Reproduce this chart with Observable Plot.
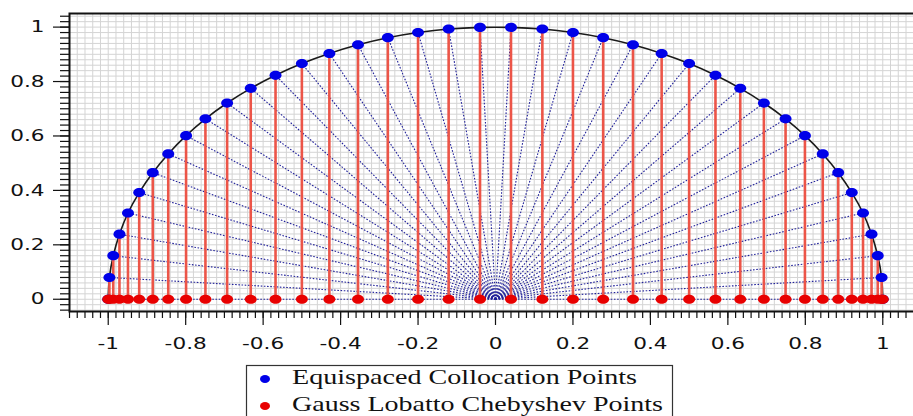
<!DOCTYPE html>
<html><head><meta charset="utf-8">
<script src="https://cdn.jsdelivr.net/npm/d3@7"></script>
<script src="https://cdn.jsdelivr.net/npm/@observablehq/plot@0.6"></script>
<style>
body{margin:0;background:#fff;overflow:hidden}
svg{overflow:hidden;display:block}
</style>
</head><body><div id="chart"></div><div id="legend"></div>
<script>
// Gauss Lobatto Chebyshev abscissae (red points) == x of equispaced arc points
const gllX = [1, 0.997, 0.987, 0.971, 0.949, 0.920, 0.885, 0.845, 0.799, 0.749, 0.693, 0.632, 0.568, 0.500, 0.429, 0.355, 0.278, 0.200, 0.121, 0.040,
  -0.040, -0.121, -0.200, -0.278, -0.355, -0.429, -0.500, -0.568, -0.632, -0.693, -0.749, -0.799, -0.845, -0.885, -0.920, -0.949, -0.971, -0.987, -0.997, -1];
// heights of the equispaced collocation points on the unit semicircle (blue)
const eqY = [0, 0.080, 0.160, 0.239, 0.317, 0.392, 0.465, 0.534, 0.601, 0.663, 0.721, 0.775, 0.823, 0.866, 0.903, 0.935, 0.961, 0.980, 0.993, 0.999,
  0.999, 0.993, 0.980, 0.961, 0.935, 0.903, 0.866, 0.823, 0.775, 0.721, 0.663, 0.601, 0.534, 0.465, 0.392, 0.317, 0.239, 0.160, 0.080, 0];
const xTicks = [-1, -0.8, -0.6, -0.4, -0.2, 0, 0.2, 0.4, 0.6, 0.8, 1];
const yTicks = [0, 0.2, 0.4, 0.6, 0.8, 1];
const legendLabels = ["Equispaced Collocation Points", "Gauss Lobatto Chebyshev Points"];
const seriesColors = ["#0000e8", "#e80000"];

const pts = gllX.map((x, i) => ({x, y: eqY[i]}));
const minorX = d3.range(-110, 111, 2).map(d => d / 100);
const minorY = d3.range(-4, 105, 2).map(d => d / 100);

const ellipse = {
  draw(ctx, size) {
    const r = Math.sqrt(size / Math.PI), a = r * 1.3, b = r, k = 0.5523;
    ctx.moveTo(a, 0);
    ctx.bezierCurveTo(a, k * b, k * a, b, 0, b);
    ctx.bezierCurveTo(-k * a, b, -a, k * b, -a, 0);
    ctx.bezierCurveTo(-a, -k * b, -k * a, -b, 0, -b);
    ctx.bezierCurveTo(k * a, -b, a, -k * b, a, 0);
    ctx.closePath();
  }
};

const chart = Plot.plot({
  width: 913, height: 355,
  marginTop: 13, marginLeft: 69, marginRight: -8, marginBottom: 44,
  x: {domain: [-1.1, 1.1]},
  y: {domain: [-0.045, 1.05]},
  style: {fontFamily: "DejaVu Sans", fontSize: "16px", color: "#111"},
  marks: [
    Plot.ruleX(minorX, {stroke: "#d4d4d4", strokeWidth: 1}),
    Plot.ruleY(minorY, {stroke: "#d4d4d4", strokeWidth: 1}),
    Plot.link(pts, {x1: () => 0, y1: () => 0, x2: "x", y2: "y", stroke: "#22229a", strokeWidth: 1.1, strokeDasharray: "1.6,1.6"}),
    Plot.line(pts, {x: "x", y: "y", curve: "catmull-rom", stroke: "#1a1a1a", strokeWidth: 1.6}),
    Plot.ruleX(pts, {x: "x", y1: () => 0, y2: "y", stroke: "#ec5548", strokeWidth: 2.6}),
    Plot.dot(pts, {x: "x", y: "y", r: 4.6, symbol: ellipse, fill: seriesColors[0], stroke: "none"}),
    Plot.dot(pts, {x: "x", y: () => 0, r: 4.6, symbol: ellipse, fill: seriesColors[1], stroke: "none"}),
    Plot.axisY(minorY, {tickSize: 9, tickFormat: () => "", label: null, strokeWidth: 1.2}),
    Plot.axisY(yTicks, {tickSize: 16, tickPadding: 9, tickFormat: d => String(d), label: null, strokeWidth: 1.2}),
    Plot.axisX(minorX, {tickSize: 7, tickFormat: () => "", label: null, strokeWidth: 1.2}),
    Plot.axisX(xTicks, {tickSize: 14, tickPadding: 12, tickFormat: d => String(d), label: null, strokeWidth: 1.2}),
    Plot.frame({stroke: "#111", strokeWidth: 2})
  ]
});
// widen the tick labels horizontally, as in the reference rendering
chart.querySelectorAll('g[aria-label$="tick label"] text').forEach(t => {
  const tr = t.getAttribute("transform");
  if (tr) t.setAttribute("transform", tr + " scale(1.35,1)");
});
document.getElementById("chart").appendChild(chart);

// legend below the plot
const ns = "http://www.w3.org/2000/svg";
const lg = document.createElementNS(ns, "svg");
lg.setAttribute("width", 913); lg.setAttribute("height", 61);
const rect = document.createElementNS(ns, "rect");
rect.setAttribute("x", 246.5); rect.setAttribute("y", 10.5);
rect.setAttribute("width", 426); rect.setAttribute("height", 70);
rect.setAttribute("fill", "white"); rect.setAttribute("stroke", "#333"); rect.setAttribute("stroke-width", 1.2);
lg.appendChild(rect);
const lens = [345, 371];
legendLabels.forEach((t, i) => {
  const cy = 24 + i * 27;
  const e = document.createElementNS(ns, "ellipse");
  e.setAttribute("cx", 265); e.setAttribute("cy", cy);
  e.setAttribute("rx", 5); e.setAttribute("ry", 4);
  e.setAttribute("fill", seriesColors[i]);
  lg.appendChild(e);
  const tx = document.createElementNS(ns, "text");
  tx.setAttribute("x", 292); tx.setAttribute("y", cy + 5);
  tx.setAttribute("font-family", "Liberation Serif");
  tx.setAttribute("font-size", 22);
  tx.setAttribute("fill", "#111");
  tx.setAttribute("textLength", lens[i]);
  tx.setAttribute("lengthAdjust", "spacingAndGlyphs");
  tx.textContent = t;
  lg.appendChild(tx);
});
document.getElementById("legend").appendChild(lg);
</script>
</body></html>
